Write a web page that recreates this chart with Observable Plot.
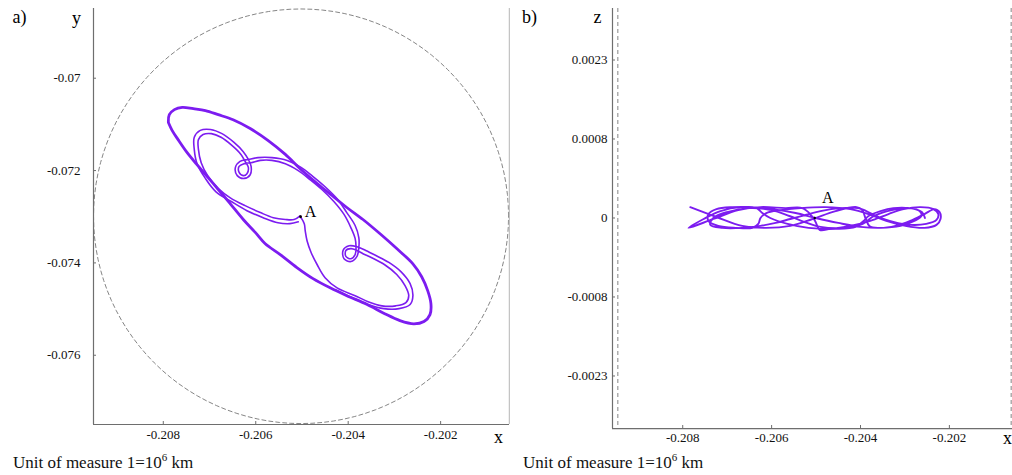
<!DOCTYPE html>
<html>
<head>
<meta charset="utf-8">
<script src="https://cdn.jsdelivr.net/npm/d3@7"></script>
<script src="https://cdn.jsdelivr.net/npm/@observablehq/plot@0.6"></script>
<style>
  body { margin: 0; background: #fff; font-family: "Liberation Serif", "Times New Roman", serif; }
  #wrap { position: relative; width: 1012px; height: 475px; overflow: hidden; background: #fff; }
  #panelA { position: absolute; left: 0; top: 0; }
  #panelB { position: absolute; left: 510px; top: 0; }
  .cap { position: absolute; top: 452px; font-size: 17px; line-height: 22px; color: #111; white-space: nowrap; }
  .cap sup { font-size: 11px; vertical-align: 7px; line-height: 0; }
</style>
</head>
<body>
<div id="wrap">
  <div id="panelA"></div>
  <div id="panelB"></div>
  <div class="cap" style="left:13px">Unit of measure 1=10<sup>6</sup> km</div>
  <div class="cap" style="left:523px">Unit of measure 1=10<sup>6</sup> km</div>
</div>
<script>
// ---------- data (units: 10^6 km) ----------
// panel a) : x-y projection
const xDomainA = [-0.20951, -0.20051];
const yDomainA = [-0.07750, -0.06849];
const xTicksA = [-0.208, -0.206, -0.204, -0.202];
const xTickLabelsA = ["-0.208", "-0.206", "-0.204", "-0.202"];
const yTicksA = [-0.07, -0.072, -0.074, -0.076];
const yTickLabelsA = ["-0.07", "-0.072", "-0.074", "-0.076"];

// reference circle (centre and radius)
const circleCenter = [-0.20502, -0.07299];
const circleRadius = 0.00449;

// point A
const pointA = {x: -0.20503, y: -0.07300, z: 0};

// outer loop of the trajectory (x, y)
const outerLoopXY = [
  [-0.20789,-0.07096],[-0.20787,-0.07079],[-0.20776,-0.07068],[-0.20759,-0.07063],[-0.20735,-0.07066],
  [-0.20709,-0.07070],[-0.20681,-0.07079],[-0.20649,-0.07090],[-0.20612,-0.07109],[-0.20573,-0.07135],
  [-0.20536,-0.07165],[-0.20504,-0.07196],[-0.20467,-0.07228],[-0.20435,-0.07254],[-0.20403,-0.07280],
  [-0.20368,-0.07306],[-0.20331,-0.07337],[-0.20295,-0.07369],[-0.20260,-0.07402],[-0.20241,-0.07430],
  [-0.20228,-0.07460],[-0.20221,-0.07488],[-0.20223,-0.07512],[-0.20236,-0.07527],[-0.20258,-0.07532],
  [-0.20288,-0.07525],[-0.20321,-0.07510],[-0.20359,-0.07490],[-0.20403,-0.07471],[-0.20439,-0.07454],
  [-0.20476,-0.07434],[-0.20511,-0.07410],[-0.20547,-0.07382],[-0.20580,-0.07358],[-0.20601,-0.07334],
  [-0.20627,-0.07306],[-0.20655,-0.07272],[-0.20681,-0.07241],[-0.20703,-0.07215],[-0.20729,-0.07185],
  [-0.20750,-0.07159],[-0.20768,-0.07133],[-0.20781,-0.07113],[-0.20789,-0.07096]
];

// inner loop, first strand (starts at A)
const innerLoop1XY = [
  [-0.20504,-0.07298],[-0.20517,-0.07306],[-0.20536,-0.07306],[-0.20562,-0.07302],[-0.20590,-0.07291],
  [-0.20623,-0.07276],[-0.20655,-0.07259],[-0.20681,-0.07239],[-0.20703,-0.07213],[-0.20718,-0.07183],
  [-0.20724,-0.07154],[-0.20724,-0.07133],[-0.20714,-0.07122],[-0.20696,-0.07120],[-0.20675,-0.07128],
  [-0.20651,-0.07146],[-0.20632,-0.07165],[-0.20623,-0.07180],[-0.20616,-0.07193],[-0.20619,-0.07207],
  [-0.20627,-0.07211],[-0.20636,-0.07204],[-0.20636,-0.07191],[-0.20625,-0.07185],[-0.20610,-0.07183],
  [-0.20590,-0.07178],[-0.20565,-0.07178],[-0.20536,-0.07185],[-0.20508,-0.07200],[-0.20482,-0.07220],
  [-0.20457,-0.07241],[-0.20431,-0.07267],[-0.20409,-0.07295],[-0.20394,-0.07324],[-0.20385,-0.07347],
  [-0.20383,-0.07367],[-0.20385,-0.07382],[-0.20394,-0.07391],[-0.20405,-0.07386],[-0.20405,-0.07373],
  [-0.20394,-0.07369],[-0.20381,-0.07373],[-0.20368,-0.07380],[-0.20349,-0.07389],[-0.20321,-0.07404],
  [-0.20295,-0.07425],[-0.20277,-0.07449],[-0.20269,-0.07471],[-0.20275,-0.07486],[-0.20297,-0.07493],
  [-0.20327,-0.07493],[-0.20357,-0.07484],[-0.20385,-0.07471],[-0.20424,-0.07454],[-0.20450,-0.07432],
  [-0.20467,-0.07404],[-0.20480,-0.07378],[-0.20489,-0.07352],[-0.20493,-0.07330],[-0.20495,-0.07315],
  [-0.20502,-0.07302]
];

// inner loop, second strand
const innerLoop2XY = [
  [-0.20508,-0.07311],[-0.20526,-0.07315],[-0.20552,-0.07313],[-0.20584,-0.07302],[-0.20619,-0.07287],
  [-0.20653,-0.07267],[-0.20686,-0.07246],[-0.20709,-0.07217],[-0.20727,-0.07185],[-0.20733,-0.07154],
  [-0.20733,-0.07128],[-0.20720,-0.07113],[-0.20698,-0.07111],[-0.20673,-0.07120],[-0.20647,-0.07139],
  [-0.20627,-0.07159],[-0.20616,-0.07176],[-0.20610,-0.07191],[-0.20612,-0.07209],[-0.20625,-0.07217],
  [-0.20640,-0.07211],[-0.20644,-0.07193],[-0.20634,-0.07180],[-0.20616,-0.07176],[-0.20595,-0.07172],
  [-0.20565,-0.07172],[-0.20532,-0.07178],[-0.20502,-0.07193],[-0.20476,-0.07213],[-0.20450,-0.07235],
  [-0.20424,-0.07261],[-0.20403,-0.07291],[-0.20385,-0.07319],[-0.20377,-0.07345],[-0.20377,-0.07367],
  [-0.20381,-0.07386],[-0.20394,-0.07397],[-0.20409,-0.07391],[-0.20411,-0.07373],[-0.20398,-0.07363],
  [-0.20381,-0.07365],[-0.20362,-0.07373],[-0.20340,-0.07384],[-0.20312,-0.07399],[-0.20286,-0.07419],
  [-0.20266,-0.07445],[-0.20260,-0.07471],[-0.20266,-0.07490],[-0.20290,-0.07499],[-0.20323,-0.07499],
  [-0.20357,-0.07490],[-0.20392,-0.07475],[-0.20428,-0.07458]
];

// panel b) : x-z projection (z axis ticks are equally spaced, non-uniform values)
const xDomainB = [-0.20958, -0.20058];
const zTicksB = [-0.0023, -0.0008, 0, 0.0008, 0.0023];
const zTickLabelsB = ["-0.0023", "-0.0008", "0", "0.0008", "0.0023"];
const zBottomB = -0.0033;
const xTicksB = [-0.208, -0.206, -0.204, -0.202];
const xTickLabelsB = ["-0.208", "-0.206", "-0.204", "-0.202"];
const sphereEdgesX = [-0.20946, -0.20061];

const trajXZ_x = [
  -0.20783,-0.20724,-0.20666,-0.20614,-0.20558,-0.20508,-0.20456,-0.20409,-0.20396,-0.20389,
  -0.20380,-0.20360,-0.20321,-0.20288,-0.20256,-0.20234,-0.20222,-0.20220,-0.20229,-0.20256,
  -0.20299,-0.20342,-0.20382,-0.20423,-0.20479,-0.20535,-0.20580,-0.20612,-0.20625,-0.20630,
  -0.20643,-0.20681,-0.20720,-0.20742,-0.20742,-0.20724,-0.20688,-0.20643,-0.20598,-0.20546,
  -0.20501,-0.20450,-0.20400,-0.20355,-0.20310,-0.20279,-0.20263,-0.20267,-0.20290,-0.20326,
  -0.20355,-0.20382,-0.20393,-0.20411,-0.20456,-0.20517,-0.20564,-0.20603,-0.20621,-0.20634,
  -0.20670,-0.20715,-0.20753,-0.20787,-0.20731,-0.20675,-0.20625,-0.20569,-0.20531,-0.20513,
  -0.20501,-0.20492,-0.20468,-0.20423,-0.20378,-0.20337,-0.20303,-0.20265,-0.20236,-0.20225,
  -0.20229,-0.20252,-0.20288,-0.20326,-0.20364,-0.20387,-0.20405,-0.20445,-0.20490,-0.20524,
  -0.20558,-0.20591,-0.20625,-0.20666,-0.20711,-0.20738,-0.20731,-0.20700,-0.20650,-0.20600,
  -0.20560,-0.20520,-0.20490,-0.20440,-0.20395,-0.20370,-0.20330,-0.20290,-0.20262,-0.20255
];
const trajXZ_z = [
  0.00011,0.00001,-0.00008,-0.0001,-0.00008,-0.00001,0.00007,0.00011,0.00008,0,
  -0.00008,-0.0001,-0.00008,-0.00003,0.00004,0.00009,0.00006,-0.00001,-0.00007,-0.0001,
  -0.00008,-0.00003,0.00004,0.00009,0.00011,0.0001,0.00008,0.00005,0,-0.00006,
  -0.0001,-0.0001,-0.00008,-0.00003,0.00004,0.00009,0.00011,0.00011,0.00009,0.00005,
  0,-0.00005,-0.00009,-0.0001,-0.00008,-0.00003,0.00002,0.00007,0.0001,0.0001,
  0.00007,0.00002,-0.00003,-0.00009,-0.00011,-0.0001,-0.00006,0,0.00005,0.0001,
  0.00011,0.00007,-0.00001,-0.0001,-0.00001,0.00008,0.00011,0.0001,0.0001,0.00004,
  -0.00004,-0.00012,-0.00011,-0.00008,-0.00003,0.00004,0.00009,0.00011,0.00009,0.00004,
  -0.00002,-0.00006,-0.00007,-0.00004,0.00002,0.00007,0.0001,0.0001,0.00007,0.00003,
  -0.00001,-0.00005,-0.00008,-0.0001,-0.0001,-0.00007,0,0.00006,0.0001,0.00008,
  0.00002,-0.00005,-0.00009,-0.0001,-0.00006,0.00002,0.00008,0.0001,0.00006,0
];

// ---------- styling ----------
const trajColor = "#7c1cf0";
const axisColor = "#6e6e6e";
const font = "Liberation Serif";

const circlePts = d3.range(0, 361, 3).map(a => {
  const t = a * Math.PI / 180;
  return [circleCenter[0] + circleRadius * Math.cos(t), circleCenter[1] + circleRadius * Math.sin(t)];
});
const px = d => d[0], py = d => d[1];

const chartA = Plot.plot({
  width: 510, height: 450,
  marginLeft: 93, marginRight: 1, marginTop: 8, marginBottom: 26,
  style: {fontFamily: font, fontSize: "13px", background: "transparent", color: "#111"},
  x: {domain: xDomainA},
  y: {domain: yDomainA},
  marks: [
    Plot.line(circlePts, {x: px, y: py, stroke: "#777", strokeWidth: 0.9, strokeDasharray: "4,3"}),
    Plot.ruleX([xDomainA[1]], {stroke: "#c4c4c4", strokeWidth: 1.5}),
    Plot.ruleX([xDomainA[0]], {stroke: axisColor, strokeWidth: 1.2}),
    Plot.ruleY([yDomainA[0]], {stroke: axisColor, strokeWidth: 1.2}),
    Plot.axisX({ticks: xTicksA, tickFormat: d => xTickLabelsA[xTicksA.indexOf(d)], tickSize: -3, tickPadding: 8, stroke: axisColor, label: null}),
    Plot.axisY({ticks: yTicksA, tickFormat: d => yTickLabelsA[yTicksA.indexOf(d)], tickSize: -3, tickPadding: 16, stroke: axisColor, label: null}),
    Plot.line(outerLoopXY, {x: px, y: py, stroke: trajColor, strokeWidth: 2.8, strokeLinejoin: "round", curve: "catmull-rom"}),
    Plot.line(innerLoop1XY, {x: px, y: py, stroke: trajColor, strokeWidth: 1.6, strokeLinejoin: "round", curve: "catmull-rom"}),
    Plot.line(innerLoop2XY, {x: px, y: py, stroke: trajColor, strokeWidth: 1.6, strokeLinejoin: "round", curve: "catmull-rom"}),
    Plot.dot([pointA], {x: "x", y: "y", r: 1.4, fill: "#000"}),
    Plot.text([pointA], {x: "x", y: "y", text: () => "A", dx: 10, dy: -5, fontSize: 16, fill: "#000"}),
    Plot.text(["a)"], {frameAnchor: "top-left", dx: -74, dy: 9, fontSize: 18, textAnchor: "middle", lineAnchor: "middle", fill: "#000"}),
    Plot.text(["y"], {frameAnchor: "top-left", dx: -17, dy: 10, fontSize: 18, textAnchor: "middle", lineAnchor: "middle", fill: "#000"}),
    Plot.text(["x"], {frameAnchor: "bottom-right", dx: -11, dy: 13, fontSize: 18, textAnchor: "middle", lineAnchor: "middle", fill: "#000"})
  ]
});
document.getElementById("panelA").appendChild(chartA);

// piecewise mapping that spaces the z ticks evenly (as in the original figure)
const zSpacing = d3.scaleLinear().domain(zTicksB).range(zTicksB.map((_, i) => i - 2));
const zTickPos = zTicksB.map(zSpacing);
const trajXZ = trajXZ_x.map((x, i) => ({x, z: trajXZ_z[i]}));

const chartB = Plot.plot({
  width: 502, height: 450,
  marginLeft: 102, marginRight: 0, marginTop: 8, marginBottom: 22,
  style: {fontFamily: font, fontSize: "13px", background: "transparent", color: "#111"},
  x: {domain: xDomainB},
  y: {transform: zSpacing, domain: [-2.665, 2.652]},
  marks: [
    Plot.ruleX(sphereEdgesX, {stroke: "#777", strokeWidth: 0.9, strokeDasharray: "4,3"}),
    Plot.ruleX([xDomainB[0]], {stroke: axisColor, strokeWidth: 1.2}),
    Plot.ruleY([zBottomB], {stroke: axisColor, strokeWidth: 1.2}),
    Plot.axisX({ticks: xTicksB, tickFormat: d => xTickLabelsB[xTicksB.indexOf(d)], tickSize: -3, tickPadding: 7, stroke: axisColor, label: null}),
    Plot.axisY({ticks: zTickPos, tickFormat: d => zTickLabelsB[zTickPos.indexOf(d)], tickSize: -3, tickPadding: 8, stroke: axisColor, label: null}),
    Plot.line(trajXZ, {x: "x", y: "z", stroke: trajColor, strokeWidth: 1.9, strokeLinejoin: "round", curve: "catmull-rom"}),
    Plot.dot([pointA], {x: "x", y: "z", r: 1.2, fill: "#000"}),
    Plot.text([pointA], {x: "x", y: "z", text: () => "A", dx: 13, dy: -20, fontSize: 16, fill: "#000"}),
    Plot.text(["b)"], {frameAnchor: "top-left", dx: -83, dy: 9, fontSize: 18, textAnchor: "middle", lineAnchor: "middle", fill: "#000"}),
    Plot.text(["z"], {frameAnchor: "top-left", dx: -15, dy: 9, fontSize: 18, textAnchor: "middle", lineAnchor: "middle", fill: "#000"}),
    Plot.text(["x"], {frameAnchor: "bottom-right", dx: -5, dy: 10, fontSize: 18, textAnchor: "middle", lineAnchor: "middle", fill: "#000"})
  ]
});
document.getElementById("panelB").appendChild(chartB);
</script>
</body>
</html>
